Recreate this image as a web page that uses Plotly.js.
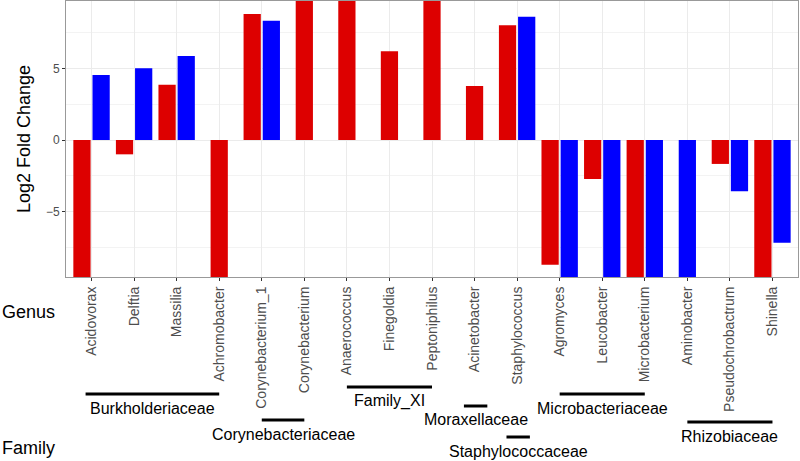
<!DOCTYPE html>
<html>
<head>
<meta charset="utf-8">
<script src="https://cdn.plot.ly/plotly-3.0.1.min.js"></script>
<style>
  body { margin: 0; background: #fff; }
  #chart { width: 800px; height: 461px; }
</style>
</head>
<body>
<div id="chart"></div>
<script>
// Genus order along the x axis
const genera = ['Acidovorax', 'Delftia', 'Massilia', 'Achromobacter', 'Corynebacterium_1',
    'Corynebacterium', 'Anaerococcus', 'Finegoldia', 'Peptoniphilus', 'Acinetobacter',
    'Staphylococcus', 'Agromyces', 'Leucobacter', 'Microbacterium', 'Aminobacter',
    'Pseudochrobactrum', 'Shinella'];

// Log2 fold change, red and blue series (null = no bar); bars that run off the panel are clipped
const redVals  = [-9.6, -1.0, 3.85, -9.6, 8.8, 9.7, 9.7, 6.2, 9.7, 3.77, 8.0, -8.7, -2.72, -9.6, null, -1.67, -9.6];
const blueVals = [4.53, 5.0, 5.86, null, 8.33, null, null, null, null, null, 8.6, -9.6, -9.6, -9.6, -9.6, -3.58, -7.17];

// Family groups: name, first genus, last genus
const familyNames = ['Burkholderiaceae', 'Corynebacteriaceae', 'Family_XI', 'Moraxellaceae',
    'Staphylococcaceae', 'Microbacteriaceae', 'Rhizobiaceae'];
const familyFirst = ['Acidovorax', 'Corynebacterium_1', 'Anaerococcus', 'Acinetobacter',
    'Staphylococcus', 'Agromyces', 'Aminobacter'];
const familyLast  = ['Achromobacter', 'Corynebacterium', 'Peptoniphilus', 'Acinetobacter',
    'Staphylococcus', 'Microbacterium', 'Shinella'];

// pixel row (from top of page) of each family bar, staggered so labels don't collide
const familyRowPx = [394, 420, 387, 406, 437, 394, 422];

const RED = '#dd0000';
const BLUE = '#0000ff';

// dodge like ggplot: pairs side by side, single bars centred on the tick
const barW = 0.405;
const pad = 0.0225;
const redOffset = [], blueOffset = [];
for (let i = 0; i < genera.length; i++) {
    const both = redVals[i] !== null && blueVals[i] !== null;
    redOffset.push(both ? -pad - barW : -barW / 2);
    blueOffset.push(both ? pad : -barW / 2);
}

const redTrace = {
    x: genera, y: redVals, type: 'bar', name: 'red',
    offset: redOffset, width: genera.map(() => barW),
    marker: { color: RED, line: { width: 0 } },
    hoverinfo: 'x+y'
};
const blueTrace = {
    x: genera, y: blueVals, type: 'bar', name: 'blue',
    offset: blueOffset, width: genera.map(() => barW),
    marker: { color: BLUE, line: { width: 0 } },
    hoverinfo: 'x+y'
};

// plot panel geometry in page pixels
const W = 800, H = 461;
const mL = 66, mR = 2, mT = 1, mB = 184;
const plotH = H - mT - mB;
const plotW = W - mL - mR;
const py = (pix) => (H - mB - pix) / plotH;   // page pixel row -> paper y
const px = (pix) => (pix - mL) / plotW;       // page pixel col -> paper x

const shapes = [];
const annotations = [];
for (let k = 0; k < familyNames.length; k++) {
    let a = genera.indexOf(familyFirst[k]);
    let b = genera.indexOf(familyLast[k]);
    if (a === b) { a -= 0.25; b += 0.3; }
    else if (a === 0) { a -= 0.14; }
    const yLine = py(familyRowPx[k]);
    shapes.push({
        type: 'line', xref: 'x', yref: 'paper',
        x0: a, x1: b, y0: yLine, y1: yLine,
        line: { color: '#000', width: 3 }
    });
    annotations.push({
        xref: 'x', yref: 'paper', x: (a + b) / 2, y: py(familyRowPx[k] + 14),
        text: familyNames[k], showarrow: false, xanchor: 'center', yanchor: 'middle',
        font: { size: 16, color: '#000' }
    });
}
annotations.push({
    xref: 'paper', yref: 'paper', x: px(0), y: py(312), text: 'Genus',
    showarrow: false, xanchor: 'left', yanchor: 'middle', font: { size: 18, color: '#000' }
});
annotations.push({
    xref: 'paper', yref: 'paper', x: px(0), y: py(448), text: 'Family',
    showarrow: false, xanchor: 'left', yanchor: 'middle', font: { size: 18, color: '#000' }
});

const layout = {
    width: W, height: H,
    margin: { l: mL, r: mR, t: mT, b: mB },
    paper_bgcolor: '#fff', plot_bgcolor: '#fff',
    font: { family: 'Liberation Sans, Arial, sans-serif' },
    showlegend: false,
    barmode: 'overlay',
    xaxis: {
        type: 'category',
        range: [-0.6, genera.length - 0.4],
        tickangle: -90,
        tickfont: { size: 14, color: '#4d4d4d' },
        ticks: 'outside', ticklen: 3, tickcolor: '#333',
        showgrid: true, gridcolor: '#ebebeb', gridwidth: 1,
        showline: true, linecolor: '#999', linewidth: 1, mirror: true,
        fixedrange: true
    },
    yaxis: {
        range: [-9.56, 9.70],
        tick0: 0, dtick: 5,
        tickfont: { size: 12, color: '#4d4d4d' },
        ticks: 'outside', ticklen: 3, tickcolor: '#333',
        showgrid: true, gridcolor: '#ebebeb', gridwidth: 1,
        minor: { dtick: 2.5, showgrid: true, gridcolor: '#f3f3f3', gridwidth: 1, ticks: '' },
        zeroline: false,
        showline: true, linecolor: '#999', linewidth: 1, mirror: true,
        title: { text: 'Log2 Fold Change', font: { size: 18, color: '#000' }, standoff: 10 },
        fixedrange: true
    },
    shapes: shapes,
    annotations: annotations
};

Plotly.newPlot('chart', [redTrace, blueTrace], layout, { displayModeBar: false, staticPlot: true });
</script>
</body>
</html>
